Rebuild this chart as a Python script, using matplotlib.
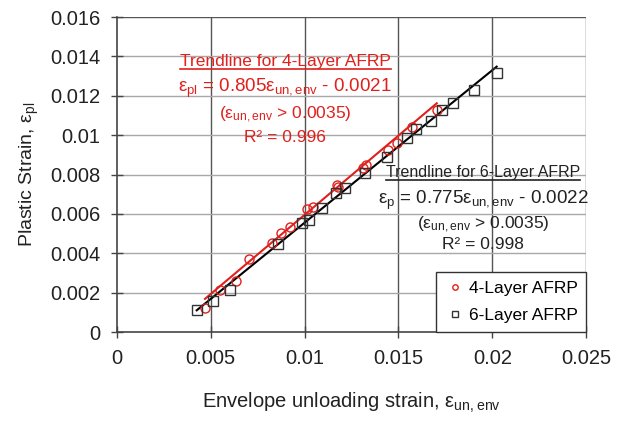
import matplotlib
matplotlib.use('Agg')
import matplotlib.pyplot as plt
from matplotlib.lines import Line2D
import numpy as np

plt.rcParams['font.family'] = ['Liberation Sans', 'DejaVu Sans']
plt.rcParams['mathtext.default'] = 'regular'

# 4-layer AFRP specimens
afrp4_un_env = [0.00470, 0.00550, 0.00634, 0.00704, 0.00825, 0.00873, 0.00923, 0.01015, 0.01044,
                0.01172, 0.01180, 0.01310, 0.01326, 0.01446, 0.01491, 0.01574, 0.01704]
afrp4_pl = [0.00120, 0.00213, 0.00260, 0.00369, 0.00453, 0.00501, 0.00534, 0.00623, 0.00636,
            0.00746, 0.00738, 0.00831, 0.00848, 0.00924, 0.00961, 0.01042, 0.01130]

# 6-layer AFRP specimens
afrp6_un_env = [0.00426, 0.00514, 0.00603, 0.00861, 0.00985, 0.01026, 0.01092, 0.01168, 0.01216,
                0.01322, 0.01441, 0.01544, 0.01594, 0.01672, 0.01731, 0.01789, 0.01903, 0.02023]
afrp6_pl = [0.00112, 0.00159, 0.00213, 0.00447, 0.00555, 0.00569, 0.00628, 0.00707, 0.00729,
            0.00806, 0.00890, 0.00983, 0.01029, 0.01071, 0.01127, 0.01164, 0.01228, 0.01316]

# linear trendlines (slope, intercept)
fit4 = (0.805, -0.0021)
fit6 = (0.775, -0.0022)

x_ticks = [0, 0.005, 0.01, 0.015, 0.02, 0.025]
x_tick_labels = ['0', '0.005', '0.01', '0.015', '0.02', '0.025']
y_ticks = [0, 0.002, 0.004, 0.006, 0.008, 0.01, 0.012, 0.014, 0.016]
y_tick_labels = ['0', '0.002', '0.004', '0.006', '0.008', '0.01', '0.012', '0.014', '0.016']

red = '#e0201c'
dark = '#222222'

fig = plt.figure(figsize=(6.25, 4.23), dpi=100)
ax = fig.add_axes([0.1867, 0.2151, 0.7513, 0.7447])

# gridlines: vertical dark, horizontal light grey
for xv in x_ticks[1:]:
    ax.axvline(xv, color='#555555', lw=1.0, zorder=0)
for yv in y_ticks[1:]:
    ax.axhline(yv, color='#a8a8a8' if yv < 0.016 else '#555555', lw=1.0, zorder=0)

ax.plot(afrp4_un_env, afrp4_pl, 'o', mfc='none', mec=red, mew=1.0, ms=6.5, label='4-Layer AFRP', zorder=3)
ax.plot(afrp6_un_env, afrp6_pl, 's', mfc='none', mec='#333333', mew=1.0, ms=6.5, label='6-Layer AFRP', zorder=3)

x4 = np.array([min(afrp4_un_env), max(afrp4_un_env)])
ax.plot(x4, fit4[0] * x4 + fit4[1], color=red, lw=1.5, zorder=2)
x6 = np.array([min(afrp6_un_env), max(afrp6_un_env)])
ax.plot(x6, fit6[0] * x6 + fit6[1], color='black', lw=1.5, zorder=2)

ax.set_xlim(0, 0.025)
ax.set_ylim(0, 0.016)
ax.set_xticks(x_ticks)
ax.set_xticklabels(x_tick_labels)
ax.set_yticks(y_ticks)
ax.set_yticklabels(y_tick_labels)
ax.tick_params(direction='inout', length=8, width=1, color='#444444', labelsize=14.5,
               labelcolor=dark, pad=8)
for s in ['top', 'right']:
    ax.spines[s].set_visible(False)
for s in ['left', 'bottom']:
    ax.spines[s].set_color('#444444')
    ax.spines[s].set_linewidth(1.2)

ax.set_xlabel('Envelope unloading strain, $ε_{un,env}$', fontsize=14.5, color=dark, labelpad=17)
ax.set_ylabel('Plastic Strain, $ε_{pl}$', fontsize=14, color=dark, labelpad=6)

# trendline annotations
t4 = ax.text(0.00897, 0.01376, 'Trendline for 4-Layer AFRP', color=red, fontsize=12.5, ha='center', va='center')
ax.text(0.00897, 0.01239, '$ε_{pl}$ = 0.805$ε_{un,env}$ - 0.0021', color=red, fontsize=13.5, ha='center', va='center')
ax.text(0.00897, 0.01101, '($ε_{un,env}$ > 0.0035)', color=red, fontsize=12.5, ha='center', va='center')
ax.text(0.00897, 0.0099, 'R² = 0.996', color=red, fontsize=12.5, ha='center', va='center')

t6 = ax.text(0.0195, 0.00812, 'Trendline for 6-Layer AFRP', color=dark, fontsize=11.5, ha='center', va='center')
ax.text(0.0195, 0.0067, '$ε_{p}$ = 0.775$ε_{un,env}$ - 0.0022', color=dark, fontsize=13.5, ha='center', va='center')
ax.text(0.0195, 0.00543, '($ε_{un,env}$ > 0.0035)', color=dark, fontsize=12.5, ha='center', va='center')
ax.text(0.0195, 0.00442, 'R² = 0.998', color=dark, fontsize=12.5, ha='center', va='center')

leg = ax.legend(loc='lower right', borderaxespad=0, fontsize=12.5, markerscale=0.6,
                handletextpad=0.2, handlelength=1.2, fancybox=False, framealpha=1,
                borderpad=0.5, labelspacing=0.7)
leg.get_frame().set_edgecolor('#333333')
leg.get_frame().set_linewidth(1.0)

# underline the trendline headings
fig.canvas.draw()
renderer = fig.canvas.get_renderer()
for t, c in [(t4, red), (t6, dark)]:
    bb = t.get_window_extent(renderer)
    fig.add_artist(Line2D([bb.x0, bb.x1], [bb.y0, bb.y0], transform=None, color=c, lw=1.2))

fig.savefig('out.png', dpi=100)
